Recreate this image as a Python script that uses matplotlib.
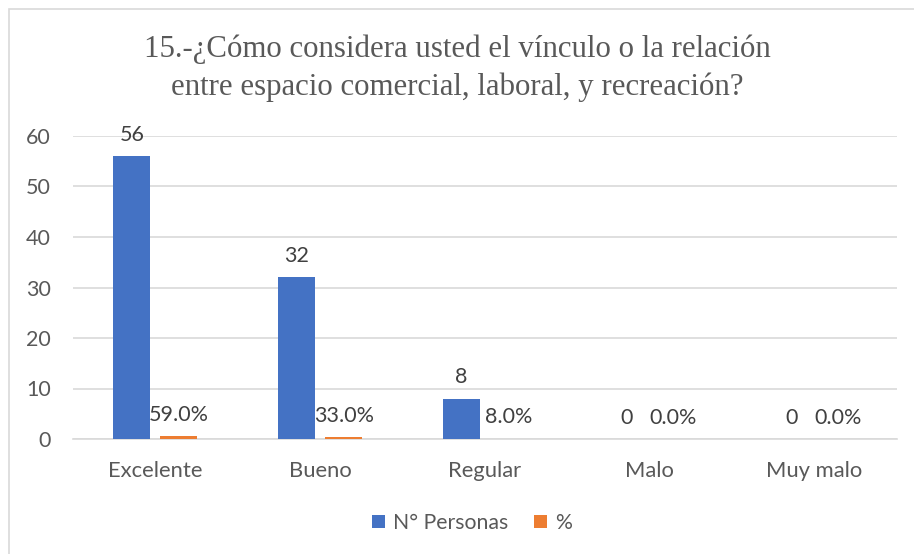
import matplotlib
matplotlib.use("Agg")
import matplotlib.pyplot as plt
from matplotlib.patches import Rectangle
import numpy as np

categories = ["Excelente", "Bueno", "Regular", "Malo", "Muy malo"]
personas = [56, 32, 8, 0, 0]
porcentaje = [0.59, 0.33, 0.08, 0.0, 0.0]
yticks = [0, 10, 20, 30, 40, 50, 60]
title = ("15.-¿Cómo considera usted el vínculo o la relación\n"
         "entre espacio comercial, laboral, y recreación?")

BLUE = "#4472C4"
ORANGE = "#ED7D31"
TEXT = "#595959"
LABEL = "#404040"
GRID = "#D9D9D9"

plt.rcParams["font.family"] = ["Lato", "DejaVu Sans"]

fig = plt.figure(figsize=(9.14, 5.54), dpi=100)
fig.patch.set_facecolor("white")

# chart frame
fig.add_artist(Rectangle((9 / 914, -0.01), 1.0, 1 - 9 / 554 + 0.01,
                         transform=fig.transFigure, fill=False,
                         edgecolor=GRID, linewidth=1.2))

ax = fig.add_axes([73 / 914, (554 - 439) / 554, (897 - 73) / 914, (439 - 136) / 554])

x = np.arange(len(categories))
width = 0.2245
offset = width / 2 + 0.27 * width / 2

b1 = ax.bar(x - offset, personas, width, color=BLUE, label="N° Personas", zorder=3)
b2 = ax.bar(x + offset, porcentaje, width, color=ORANGE, label="%", zorder=3)

ax.bar_label(b1, labels=[f"{v:d}" for v in personas], padding=8,
             fontsize=15.5, color=LABEL)
ax.bar_label(b2, labels=[f"{v * 100:.1f}%" for v in porcentaje], padding=8,
             fontsize=15.5, color=LABEL)

ax.set_xlim(-0.5, len(categories) - 0.5)
ax.set_ylim(0, 60)
ax.set_yticks(yticks)
ax.set_xticks(x)
ax.set_xticklabels(categories)
ax.tick_params(axis="y", length=0, pad=16, labelsize=15.5, labelcolor=TEXT)
ax.tick_params(axis="x", length=0, pad=16, labelsize=15.8, labelcolor=TEXT)
ax.yaxis.grid(True, color=GRID, linewidth=1.2, zorder=0)
for s in ["left", "right", "top"]:
    ax.spines[s].set_visible(False)
ax.spines["bottom"].set_color(GRID)
ax.spines["bottom"].set_linewidth(1.2)

fig.text(457 / 914, 1 - 68 / 554, title, ha="center", va="center",
         fontsize=22.2, color=TEXT, family=["Liberation Serif"],
         linespacing=1.4)

fig.legend(handles=[b1, b2], loc="center", bbox_to_anchor=(472 / 914, 1 - 523 / 554),
           ncol=2, frameon=False, fontsize=15.3, labelcolor=TEXT,
           handlelength=0.6, handleheight=0.6, handletextpad=0.4,
           columnspacing=1.2)

fig.savefig("out.png", dpi=100, facecolor="white")
